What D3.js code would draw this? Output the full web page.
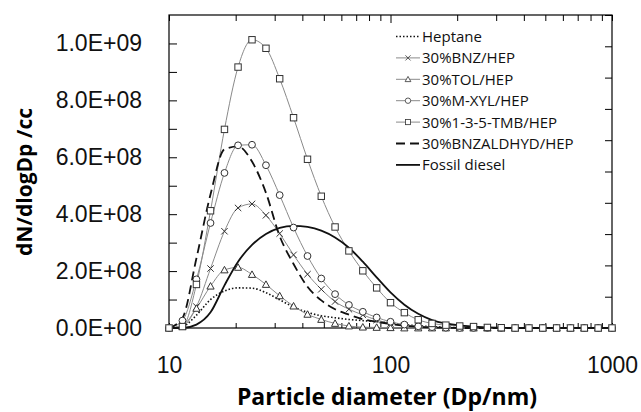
<!DOCTYPE html>
<html lang="en">
<head>
  <meta charset="UTF-8">
  <title>dN/dlogDp vs particle diameter</title>
  <script src="https://d3js.org/d3.v7.min.js"></script>
  <style>
    body { margin: 0; background: #fff; }
    svg { display: block; font-family: "Open Sans", "Noto Sans", sans-serif; }
    .axis path, .axis line { stroke: #000; }
    .axis text { font-size: 23px; fill: #111; }
    .legend text { font-size: 15px; fill: #111; }
  </style>
</head>
<body>
<svg width="641" height="412"></svg>
<script>
// particle diameter channels (nm)
const diameters = [10.0, 11.5, 13.3, 15.4, 17.8, 20.5, 23.7, 27.4, 31.6, 36.5, 42.2, 48.7, 56.2, 64.9,
  75.0, 86.6, 100, 115.5, 133.4, 154.0, 177.8, 205.4, 237.1, 273.8, 316.2, 365.2, 421.7, 487.0,
  562.3, 649.4, 749.9, 866.0, 1000];

// dN/dlogDp in units of 1E+08 /cc
const heptane = [0, 0.05, 0.45, 1.0, 1.3, 1.41, 1.4, 1.24, 0.99, 0.74, 0.55, 0.43, 0.36, 0.3, 0.26, 0.22,
  0.18, 0.12, 0.08, 0.05, 0.03, 0.01, 0, 0, 0, 0, 0, 0, 0, 0, 0, 0, 0];
const bnz = [0, 0.1, 0.75, 2.09, 3.40, 4.22, 4.36, 3.96, 3.32, 2.57, 1.89, 1.36, 0.93, 0.66, 0.46, 0.28,
  0.16, 0.08, 0.04, 0.02, 0.01, 0, 0, 0, 0, 0, 0, 0, 0, 0, 0, 0, 0];
const tol = [0, 0.05, 0.69, 1.47, 2.04, 2.13, 1.88, 1.53, 1.13, 0.77, 0.48, 0.3, 0.16, 0.07, 0.03, 0.02,
  0.01, 0, 0, 0, 0, 0, 0, 0, 0, 0, 0, 0, 0, 0, 0, 0, 0];
const mxyl = [0, 0.26, 1.71, 3.69, 5.45, 6.42, 6.44, 5.72, 4.67, 3.53, 2.53, 1.74, 1.19, 0.81, 0.57, 0.37,
  0.22, 0.12, 0.06, 0.03, 0.01, 0, 0, 0, 0, 0, 0, 0, 0, 0, 0, 0, 0];
const tmb = [0, 0.05, 1.53, 4.12, 6.98, 9.17, 10.13, 9.83, 8.76, 7.39, 5.93, 4.63, 3.55, 2.71, 2.01, 1.41,
  0.89, 0.54, 0.29, 0.16, 0.1, 0.07, 0.05, 0.02, 0.01, 0, 0, 0, 0, 0, 0, 0, 0];
const bnzald = [0, 0.35, 2.45, 4.7, 6.28, 6.38, 5.85, 4.75, 3.23, 2.25, 1.45, 0.97, 0.66, 0.47, 0.31, 0.22,
  0.14, 0.08, 0.04, 0.02, 0.01, 0, 0, 0, 0, 0, 0, 0, 0, 0, 0, 0, 0];
const fossil = [0, 0, 0.12, 0.55, 1.5, 2.33, 2.92, 3.3, 3.52, 3.59, 3.55, 3.42, 3.18, 2.82, 2.33, 1.78,
  1.25, 0.82, 0.5, 0.28, 0.16, 0.09, 0.05, 0.02, 0.01, 0, 0, 0, 0, 0, 0, 0, 0];

const xTicks = [10, 100, 1000];
const yTicks = [0, 2e8, 4e8, 6e8, 8e8, 1e9];

const series = [
  { name: "Heptane", values: heptane, type: "dotted" },
  { name: "30%BNZ/HEP", values: bnz, type: "marker", marker: "cross" },
  { name: "30%TOL/HEP", values: tol, type: "marker", marker: "triangle" },
  { name: "30%M-XYL/HEP", values: mxyl, type: "marker", marker: "circle" },
  { name: "30%1-3-5-TMB/HEP", values: tmb, type: "marker", marker: "square" },
  { name: "30%BNZALDHYD/HEP", values: bnzald, type: "dashed" },
  { name: "Fossil diesel", values: fossil, type: "solid" }
];

const svg = d3.select("svg");
const plotLeft = 169, plotRight = 612, plotTop = 15, plotBottom = 328;

const x = d3.scaleLog().domain([10, 1000]).range([plotLeft, plotRight]);
const y = d3.scaleLinear().domain([0, 1.1e9]).range([plotBottom, plotTop]);
const yRight = d3.scaleLinear().domain([0, 10]).range([plotBottom, plotTop]);

const fmt = v => {
  if (v === 0) return "0.0E+00";
  const e = Math.floor(Math.log10(v));
  return (v / Math.pow(10, e)).toFixed(1) + "E+" + String(e).padStart(2, "0");
};

// minor log ticks
const logTicks = [];
for (let d = 10; d < 1000; d *= 10) {
  for (let k = 1; k < 10; k++) logTicks.push(d * k);
}
logTicks.push(1000);

// frame
svg.append("rect")
  .attr("x", plotLeft).attr("y", plotTop)
  .attr("width", plotRight - plotLeft).attr("height", plotBottom - plotTop)
  .attr("fill", "none").attr("stroke", "#000").attr("stroke-width", 1.2);

// bottom axis (ticks point inward)
const xAxis = svg.append("g").attr("class", "axis")
  .attr("transform", `translate(0,${plotBottom})`)
  .call(d3.axisBottom(x).tickValues(logTicks).tickSize(-5)
    .tickFormat(d => xTicks.includes(d) ? d3.format("d")(d) : ""));
xAxis.select(".domain").remove();
xAxis.selectAll("text").attr("y", 45).attr("dy", 0);

// top axis
const topAxis = svg.append("g").attr("class", "axis")
  .attr("transform", `translate(0,${plotTop})`)
  .call(d3.axisTop(x).tickValues(logTicks).tickSize(-6).tickFormat(""));
topAxis.select(".domain").remove();
topAxis.selectAll(".tick line").filter(d => d === 100).attr("y2", 8);

// left axis
const yAxis = svg.append("g").attr("class", "axis")
  .attr("transform", `translate(${plotLeft},0)`)
  .call(d3.axisLeft(y).tickValues(d3.range(0, 11).map(i => i * 1e8)).tickSize(-8).tickPadding(27)
    .tickFormat(d => yTicks.some(t => Math.abs(t - d) < 1) ? fmt(d) : ""));
yAxis.select(".domain").remove();

// right axis, unlabeled
const rAxis = svg.append("g").attr("class", "axis")
  .attr("transform", `translate(${plotRight},0)`)
  .call(d3.axisRight(yRight).ticks(10).tickSize(-7).tickFormat(""));
rAxis.select(".domain").remove();

// axis titles
svg.append("text")
  .attr("x", 387).attr("y", 405)
  .attr("text-anchor", "middle")
  .attr("font-size", 23).attr("font-weight", "bold")
  .text("Particle diameter (Dp/nm)");

svg.append("text")
  .attr("transform", "translate(32,182) rotate(-90)")
  .attr("text-anchor", "middle")
  .attr("font-size", 21).attr("font-weight", "bold")
  .text("dN/dlogDp /cc");

const line = d3.line()
  .x((d, i) => x(diameters[i]))
  .y(d => y(d * 1e8))
  .curve(d3.curveMonotoneX);

const styleLine = (sel, s) => {
  if (s.type === "marker") {
    sel.attr("stroke", "#8a8a8a").attr("stroke-width", 1);
  } else if (s.type === "dotted") {
    sel.attr("stroke", "#111").attr("stroke-width", 1.6).attr("stroke-dasharray", "1.5 2");
  } else if (s.type === "dashed") {
    sel.attr("stroke", "#111").attr("stroke-width", 1.8).attr("stroke-dasharray", "9 5");
  } else {
    sel.attr("stroke", "#111").attr("stroke-width", 1.8);
  }
  return sel.attr("fill", "none");
};

const drawMarker = (g, type) => {
  if (type === "square") {
    g.append("rect").attr("x", -3.2).attr("y", -3.2).attr("width", 6.4).attr("height", 6.4);
  } else if (type === "circle") {
    g.append("circle").attr("r", 3.4);
  } else if (type === "triangle") {
    g.append("path").attr("d", "M0,-3.6L3.6,2.9L-3.6,2.9Z");
  } else {
    g.append("path").attr("d", "M-3.2,-3.2L3.2,3.2M-3.2,3.2L3.2,-3.2");
  }
  g.selectAll("*").attr("fill", "#fff").attr("stroke", "#333").attr("stroke-width", 1);
};

const plot = svg.append("g");

series.forEach(s => {
  styleLine(plot.append("path").attr("d", line(s.values)), s);
});

series.filter(s => s.type === "marker").forEach(s => {
  s.values.forEach((v, i) => {
    const g = plot.append("g")
      .attr("transform", `translate(${x(diameters[i])},${y(v * 1e8)})`);
    drawMarker(g, s.marker);
  });
});

// legend
const legend = svg.append("g").attr("class", "legend");
series.forEach((s, i) => {
  const ly = 36.5 + i * 21.4;
  const g = legend.append("g").attr("transform", `translate(396,${ly})`);
  styleLine(g.append("line").attr("x1", 0).attr("x2", 24).attr("y1", 0).attr("y2", 0), s);
  if (s.type === "marker") {
    const m = g.append("g").attr("transform", "translate(12,0) scale(0.8)");
    drawMarker(m, s.marker);
  }
  g.append("text").attr("x", 26).attr("y", 0).attr("dy", "0.36em").text(s.name);
});
</script>
</body>
</html>
